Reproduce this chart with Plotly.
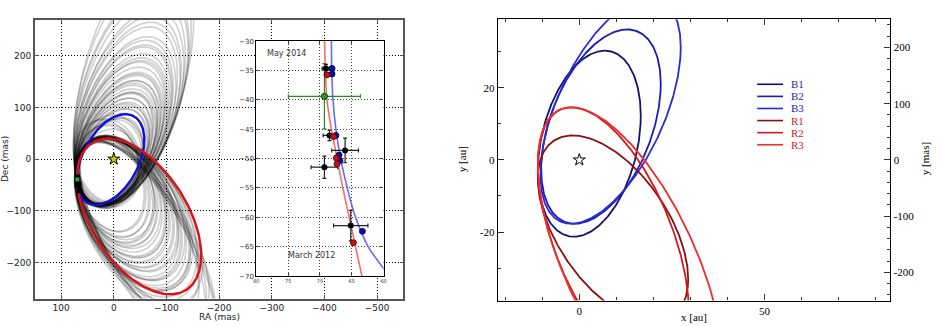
import numpy as np
import plotly.graph_objects as go

W_FIG, H_FIG = 943, 326

# ---------------- data ----------------
# Left panel: family of sampled orbits (black, translucent), in RA/Dec (mas).
# Each ellipse: half-width W (RA), half-height H (Dec), correlation rho, max-RA value Rmax and
# either its lowest Dec (upper family, "bot") or highest Dec (lower family, "top").
up_W = [62, 66, 70, 74, 78, 82, 86, 90, 94, 98, 102, 106, 110, 112, 68, 76, 84, 92, 100, 108, 72, 80, 88, 96, 104, 114,
        64, 67, 71, 75, 79, 83, 87, 91, 69, 73, 77, 81]
up_H = [84, 92, 100, 108, 118, 128, 138, 148, 160, 172, 185, 200, 215, 235, 96, 112, 132, 155, 178, 208, 104, 122, 142, 165, 192, 250,
        88, 94, 102, 110, 120, 130, 140, 152, 98, 106, 116, 126]
up_rho = [-0.40, -0.41, -0.41, -0.42, -0.42, -0.43, -0.43, -0.44, -0.44, -0.45, -0.45, -0.46, -0.46, -0.47,
          -0.38, -0.40, -0.42, -0.43, -0.44, -0.45, -0.39, -0.41, -0.43, -0.44, -0.46, -0.48,
          -0.42, -0.40, -0.43, -0.41, -0.44, -0.42, -0.45, -0.43, -0.39, -0.44, -0.40, -0.45]
up_rmax = [70, 71, 72, 72, 73, 73, 74, 74, 75, 75, 76, 76, 77, 77, 70, 71, 72, 73, 74, 75, 71, 72, 73, 74, 75, 76,
           71, 70, 72, 71, 73, 72, 74, 73, 70, 72, 71, 73]
up_bot = [-88, -86, -90, -87, -89, -91, -88, -92, -90, -88, -93, -90, -92, -94, -85, -88, -86, -89, -91, -87, -90, -92, -88, -93, -95, -96,
          -87, -91, -86, -90, -88, -92, -89, -87, -93, -85, -89, -90]

lo_W = [64, 70, 76, 82, 88, 94, 100, 106, 112, 118, 68, 80, 92, 104, 116, 74, 86, 98, 110, 122,
        66, 72, 78, 84, 90, 96, 102, 108, 74, 86, 98, 110]
lo_H = [90, 96, 104, 112, 120, 128, 136, 144, 150, 158, 94, 108, 124, 140, 154, 100, 116, 132, 146, 162,
        92, 100, 106, 114, 122, 130, 138, 146, 102, 118, 134, 150]
lo_rho = [0.22, 0.26, 0.30, 0.33, 0.36, 0.39, 0.42, 0.44, 0.46, 0.48, 0.24, 0.32, 0.38, 0.43, 0.47, 0.28, 0.35, 0.41, 0.45, 0.49,
          0.24, 0.28, 0.31, 0.34, 0.37, 0.40, 0.43, 0.45, 0.27, 0.36, 0.42, 0.47]
lo_rmax = [70, 71, 71, 72, 72, 73, 73, 74, 74, 75, 70, 71, 72, 73, 74, 71, 72, 73, 74, 75,
           71, 70, 72, 71, 73, 72, 74, 73, 70, 72, 73, 74]
lo_top = [40, 42, 38, 44, 41, 45, 39, 43, 46, 42, 36, 43, 39, 45, 41, 44, 40, 46, 42, 39,
          43, 39, 45, 40, 42, 44, 41, 38, 41, 46, 40, 44]

ring_W = [58, 60, 62, 64, 60, 66, 59, 63]
ring_H = [74, 78, 82, 86, 80, 90, 76, 84]
ring_rho = [-0.15, 0.00, 0.10, -0.25, 0.18, -0.05, 0.05, -0.20]
ring_rmax = [70, 71, 72, 71, 73, 72, 70, 73]
ring_bot = [-90, -88, -86, -92, -84, -95, -87, -91]

# elongated lower orbits (displayed frame X = -RA): semi-axes a, b, angle (deg), gap to hole centre
HOLE_RA, HOLE_DEC = 16.0, -21.0
thin_a = [180, 190, 200, 210, 220, 230, 195, 215]
thin_b = [80, 79, 78, 78, 77, 76, 80, 78]
thin_theta = [-59, -61, -60, -62, -60, -61, -58, -59]
thin_gap = [58, 60, 57, 61, 59, 62, 56, 60]

# Left panel highlighted orbits: (cx, cy, W, H, rho) in mas (RA, Dec)
blue_orbit = [6.0, -1.0, 64.0, 88.0, -0.44]
red_orbit = [-48.0, -111.0, 118.0, 150.8, 0.50]

# Astrometry (RA offset, Dec offset in mas)
obs_ra = [69.06, 68.5, 66.05, 69.3, 65.16]
obs_dec = [-34.65, -46.05, -48.6, -51.46, -61.4]
obs_ra_err = [0.6, 1.0, 2.1, 2.1, 2.7]
obs_dec_err = [0.7, 0.9, 2.1, 1.9, 2.6]
green_ra = [69.3]
green_dec = [-39.4]
green_ra_err = [5.67]
green_dec_err = [5.55]
blue_pts_ra = [68.1, 68.1, 67.5, 67.0, 66.86, 63.33]
blue_pts_dec = [-34.65, -35.6, -46.05, -49.4, -50.35, -62.37]
red_pts_ra = [68.9, 67.86, 67.43, 67.32, 64.74]
red_pts_dec = [-35.75, -46.27, -49.9, -50.9, -64.3]

# Inset model tracks
inset_red_dec = [-29, -35, -40, -45, -50, -55, -60, -65, -71]
inset_red_ra = [69.3, 69.15, 68.9, 68.2, 67.3, 66.4, 65.4, 64.4, 63.2]
inset_blue_dec = [-29, -35, -40, -45, -50, -55, -60, -65, -68.7, -71]
inset_blue_ra = [68.2, 68.15, 67.95, 67.5, 66.75, 65.7, 64.4, 62.4, 60.0, 58.5]

# Right panel orbits (au): (cx, cy, W, H, rho)
orbit_names = ["B1", "B2", "B3", "R1", "R2", "R3"]
orbit_params = [
    [2.7, 4.5, 13.9, 25.8, 0.30],
    [5.85, 9.25, 16.15, 26.95, 0.44],
    [8.45, 13.6, 18.95, 31.3, 0.562],
    [9.1, -19.1, 20.3, 25.9, -0.537],
    [9.2, -22.0, 20.4, 36.6, -0.557],
    [13.8, -28.8, 25.0, 43.4, -0.64],
]
orbit_colors = ["#12126e", "#1a1ab8", "#2a2ad8", "#8a1010", "#d81818", "#f02c2c"]
label_colors = ["#2424b0", "#2424b0", "#2424b0", "#d02424", "#d02424", "#d02424"]


def ellipse(cx, cy, W, H, rho, n=400):
    t = np.linspace(0, 2 * np.pi, n)
    x = cx + W * np.cos(t)
    y = cy + H * (rho * np.cos(t) + np.sqrt(1 - rho ** 2) * np.sin(t))
    return x, y


def rot_ellipse_radec(a, b, theta_deg, gap, n=400):
    th = np.radians(theta_deg)
    c, s = np.cos(th), np.sin(th)
    hx, hy = -HOLE_RA, HOLE_DEC
    cx = hx + (a - gap) * c
    cy = hy + (a - gap) * s
    t = np.linspace(0, 2 * np.pi, n)
    X = cx + a * np.cos(t) * c - b * np.sin(t) * s
    Y = cy + a * np.cos(t) * s + b * np.sin(t) * c
    return -X, Y


def px(xp):
    return xp / W_FIG


def py(yp):
    return 1 - yp / H_FIG


fig = go.Figure()
FAM_LINE = dict(color="rgba(0,0,0,0.19)", width=1.6)


def add_fam(x, y):
    fig.add_trace(go.Scatter(x=x, y=y, mode="lines", line=FAM_LINE,
                             xaxis="x", yaxis="y", hoverinfo="skip", showlegend=False))


# ---- main panel ----
for W, H, r, rm, bot in zip(up_W, up_H, up_rho, up_rmax, up_bot):
    add_fam(*ellipse(rm - W, bot + H, W, H, r))
for W, H, r, rm, top in zip(lo_W, lo_H, lo_rho, lo_rmax, lo_top):
    add_fam(*ellipse(rm - W, top - H, W, H, r))
for W, H, r, rm, bot in zip(ring_W, ring_H, ring_rho, ring_rmax, ring_bot):
    add_fam(*ellipse(rm - W, bot + H, W, H, r))
for a, b, th, g in zip(thin_a, thin_b, thin_theta, thin_gap):
    add_fam(*rot_ellipse_radec(a, b, th, g))

x, y = ellipse(*blue_orbit)
fig.add_trace(go.Scatter(x=x, y=y, mode="lines", line=dict(color="#1010dd", width=2.4),
                         xaxis="x", yaxis="y", showlegend=False))
x, y = ellipse(*red_orbit)
fig.add_trace(go.Scatter(x=x, y=y, mode="lines", line=dict(color="#e01010", width=2.4),
                         xaxis="x", yaxis="y", showlegend=False))
fig.add_trace(go.Scatter(x=obs_ra, y=obs_dec, mode="markers", marker=dict(symbol="square", size=5, color="black"),
                         xaxis="x", yaxis="y", showlegend=False))
fig.add_trace(go.Scatter(x=green_ra, y=green_dec, mode="markers",
                         marker=dict(symbol="square", size=5, color="#22aa22", line=dict(color="black", width=1)),
                         xaxis="x", yaxis="y", showlegend=False))
fig.add_trace(go.Scatter(x=[0], y=[0], mode="markers",
                         marker=dict(symbol="star", size=9, color="#c8c800", line=dict(color="black", width=1)),
                         xaxis="x", yaxis="y", showlegend=False))

# ---- inset ----
fig.add_trace(go.Scatter(x=inset_red_ra, y=inset_red_dec, mode="lines", line=dict(color="#ff6a6a", width=1.6, shape="spline"),
                         xaxis="x2", yaxis="y2", showlegend=False))
fig.add_trace(go.Scatter(x=inset_blue_ra, y=inset_blue_dec, mode="lines", line=dict(color="#6a6aff", width=1.6, shape="spline"),
                         xaxis="x2", yaxis="y2", showlegend=False))
fig.add_trace(go.Scatter(x=green_ra, y=green_dec, mode="markers",
                         marker=dict(size=6, color="#2a9a2a", line=dict(color="#114411", width=1)),
                         error_x=dict(type="data", array=green_ra_err, color="#2a8a2a", thickness=1.2, width=2),
                         error_y=dict(type="data", array=green_dec_err, color="#2a8a2a", thickness=1.2, width=2),
                         xaxis="x2", yaxis="y2", showlegend=False))
fig.add_trace(go.Scatter(x=obs_ra, y=obs_dec, mode="markers",
                         marker=dict(size=6, color="black"),
                         error_x=dict(type="data", array=obs_ra_err, color="#222", thickness=1.2, width=2),
                         error_y=dict(type="data", array=obs_dec_err, color="#222", thickness=1.2, width=2),
                         xaxis="x2", yaxis="y2", showlegend=False))
fig.add_trace(go.Scatter(x=blue_pts_ra, y=blue_pts_dec, mode="markers",
                         marker=dict(size=6, color="#0a0aa8", line=dict(color="#000050", width=0.8)),
                         xaxis="x2", yaxis="y2", showlegend=False))
fig.add_trace(go.Scatter(x=red_pts_ra, y=red_pts_dec, mode="markers",
                         marker=dict(size=6, color="#c81010", line=dict(color="#500000", width=0.8)),
                         xaxis="x2", yaxis="y2", showlegend=False))

# ---- right panel ----
for name, p, c in zip(orbit_names, orbit_params, orbit_colors):
    x, y = ellipse(*p)
    fig.add_trace(go.Scatter(x=x, y=y, mode="lines", line=dict(color=c, width=1.8), name=name,
                             xaxis="x3", yaxis="y3", showlegend=False))
fig.add_trace(go.Scatter(x=[0], y=[0], mode="markers",
                         marker=dict(symbol="star-open", size=9, color="black", line=dict(width=1)),
                         xaxis="x3", yaxis="y3", showlegend=False))
fig.add_trace(go.Scatter(x=[0], y=[0], mode="markers", marker=dict(opacity=0),
                         xaxis="x3", yaxis="y4", showlegend=False, hoverinfo="skip"))

sans = dict(family="DejaVu Sans", size=9, color="#222")
serif = dict(family="Liberation Serif", size=11, color="black")

common_main = dict(showgrid=True, gridcolor="black", griddash="1px,2px", gridwidth=1, zeroline=False,
                   showline=True, linecolor="#555", linewidth=1.5, mirror="ticks", ticks="inside",
                   ticklen=4, tickcolor="#555", tickfont=sans)
common_right = dict(showgrid=False, zeroline=False, showline=True, linecolor="black", linewidth=1.3,
                    ticks="inside", ticklen=6, tickcolor="#333", tickfont=serif)

fig.update_layout(
    width=W_FIG, height=H_FIG, autosize=False,
    margin=dict(l=0, r=0, t=0, b=0),
    paper_bgcolor="white", plot_bgcolor="white",
    showlegend=False,
    xaxis=dict(domain=[px(32), px(403)], range=[150, -550], anchor="y",
               tickvals=[100, 0, -100, -200, -300, -400, -500], **common_main),
    yaxis=dict(domain=[py(302), py(16)], range=[-270, 270], anchor="x",
               tickvals=[-200, -100, 0, 100, 200], **common_main),
    xaxis2=dict(domain=[px(255), px(383)], range=[80, 60], anchor="y2",
                tickvals=[80, 75, 70, 65, 60], showgrid=True, gridcolor="#444", griddash="1px,2px", gridwidth=1,
                zeroline=False, showline=True, linecolor="black", linewidth=1.2, mirror="ticks",
                ticks="inside", ticklen=3, tickfont=dict(family="DejaVu Sans", size=5, color="#333")),
    yaxis2=dict(domain=[py(279), py(38)], range=[-70, -30], anchor="x2", dtick=5,
                showgrid=True, gridcolor="#444", griddash="1px,2px", gridwidth=1,
                zeroline=False, showline=True, linecolor="black", linewidth=1.2, mirror="ticks",
                ticks="inside", ticklen=3, tickfont=dict(family="DejaVu Sans", size=7, color="#333")),
    xaxis3=dict(domain=[px(498), px(893)], range=[-22, 84], anchor="y3",
                tickvals=[0, 50], ticktext=["0", "50"], mirror="ticks",
                minor=dict(ticks="inside", ticklen=3, tickcolor="#333", dtick=10, tick0=0), **common_right),
    yaxis3=dict(domain=[py(304), py(15.7)], range=[-39, 39], anchor="x3",
                tickvals=[-20, 0, 20], ticktext=["-20", "0", "20"],
                minor=dict(ticks="inside", ticklen=3, tickcolor="#333", dtick=10, tick0=0), **common_right),
    yaxis4=dict(domain=[py(304), py(15.7)], range=[-250, 250], anchor="x3", overlaying="y3", side="right",
                tickvals=[-200, -100, 0, 100, 200], ticktext=["-200", "-100", "0", "100", "200"],
                minor=dict(ticks="inside", ticklen=3, tickcolor="#333", dtick=20, tick0=0), **common_right),
)

annotations = [
    dict(x=px(217.5), y=py(320.5), text="RA (mas)", font=sans),
    dict(x=px(2), y=py(159), text="Dec (mas)", font=sans, textangle=-90),
    dict(x=75.2, y=-32.1, xref="x2", yref="y2", text="May 2014", font=dict(family="DejaVu Sans", size=8, color="#333")),
    dict(x=71.4, y=-66.5, xref="x2", yref="y2", text="March 2012", font=dict(family="DejaVu Sans", size=8, color="#333")),
    dict(x=px(695), y=py(321), text="x [au]", font=serif),
    dict(x=px(462), y=py(159), text="y [au]", font=serif, textangle=-90),
    dict(x=px(928), y=py(159), text="y [mas]", font=serif, textangle=-90),
]
shapes = []
for i, (name, c, lc) in enumerate(zip(orbit_names, orbit_colors, label_colors)):
    yy = 82.3 + i * 12.4
    shapes.append(dict(type="line", xref="paper", yref="paper", x0=px(759), x1=px(785), y0=py(yy), y1=py(yy),
                       line=dict(color=c, width=1.6)))
    annotations.append(dict(x=px(791), y=py(yy), text=name, xanchor="left",
                            font=dict(family="Liberation Serif", size=11, color=lc)))
for a in annotations:
    a.setdefault("xref", "paper")
    a.setdefault("yref", "paper")
    a.setdefault("showarrow", False)
    a.setdefault("xanchor", "center")
    a.setdefault("yanchor", "middle")
fig.update_layout(annotations=annotations, shapes=shapes)

fig.write_html("out.html")
